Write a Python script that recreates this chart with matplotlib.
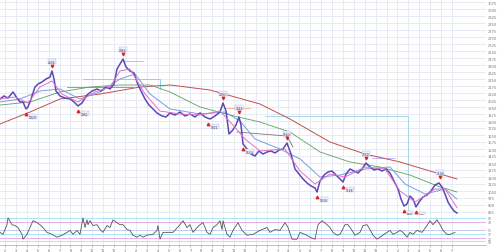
import matplotlib
matplotlib.use("Agg")
import matplotlib.pyplot as plt
import numpy as np

# ---------------- data ----------------
# bar index (one bar per horizontal pixel-step) and close price
bars = [0,4,8,13,17,20,23,26,28,31,35,38,42,46,50,52,54,56,60,65,70,74,78,82,87,92,97,101,106,110,
        114,117,120,123,126,130,134,137,141,145,149,153,157,162,166,170,175,180,185,190,195,200,205,210,
        215,220,223,226,229,232,236,239,241,243,247,251,255,259,263,267,271,275,279,283,287,291,295,299,
        303,307,311,315,317,320,324,328,332,336,340,343,346,350,354,358,362,366,370,374,378,382,386,390,
        394,398,401,404,407,410,413,416,419,423,427,431,435,439,442,445,448,451,454,457]
price = [2036,2068,2046,2111,2046,2004,2004,1929,1950,2036,2164,2196,2218,2250,2271,2336,2250,2121,2068,2046,
         2036,2004,1961,1993,2079,2121,2143,2121,2164,2143,2196,2357,2411,2464,2379,2336,2314,2218,2121,2036,
         1971,1929,1886,1854,1843,1886,1864,1896,1854,1875,1843,1886,1843,1821,1854,1896,1993,1907,1661,1693,
         1757,1843,1757,1554,1500,1446,1425,1479,1446,1468,1479,1457,1489,1500,1564,1446,1286,1232,1179,1136,
         1104,1082,1039,1157,1221,1254,1264,1221,1179,1146,1232,1286,1264,1243,1286,1350,1307,1275,1286,1264,
         1286,1243,1157,1071,964,889,911,996,964,879,932,986,1007,1050,1114,1136,1093,1018,932,879,836,814]

ma_fast_bars = [0,15,28,40,52,62,78,95,110,120,130,145,160,180,200,220,232,245,260,285,300,315,330,345,365,385,400,415,435,445,457]
ma_fast = [2036,2057,1993,2164,2229,2089,2004,2111,2164,2336,2357,2089,1907,1875,1864,1907,1768,1607,1479,1500,1264,1125,1232,1200,1307,1286,1050,932,1071,1071,871]

ma_mid_bars = [0,20,40,60,80,100,120,135,150,170,200,225,240,255,280,300,320,340,365,390,405,425,445,457]
ma_mid = [2004,2036,2121,2143,2036,2111,2250,2304,2089,1929,1875,1896,1800,1607,1500,1393,1200,1221,1286,1307,1125,1018,1071,964]

ma_slow_bars = [0,30,60,90,120,150,170,200,230,260,290,320,350,380,410,440,457]
ma_slow = [1971,2004,2111,2164,2186,2186,2111,1950,1864,1789,1682,1468,1361,1307,1221,1093,1039]

ma_long_bars = [0,30,60,100,140,170,210,260,290,330,365,400,430,457]
ma_long = [1768,1896,2036,2089,2164,2186,2132,1982,1821,1575,1446,1361,1264,1179]

osc_bars = [0,3,7,8,12,15,18,22,23,27,30,33,37,40,43,47,52,57,62,67,70,73,77,80,83,85,87,88,90,93,97,100,
            103,107,110,113,117,120,123,127,130,133,137,140,143,147,153,157,158,160,163,167,173,180,183,187,
            190,193,197,200,203,207,210,213,217,220,222,223,227,230,233,238,242,247,253,260,267,270,275,280,
            285,288,292,297,300,305,310,315,318,322,327,330,333,337,340,345,348,352,355,360,363,367,370,373,
            377,380,387,390,393,397,400,403,407,410,413,417,422,427,430,433,437,440,443,447,450,455]
osc = [41,34,68,92,68,65,58,34,17,34,58,82,75,68,58,41,34,24,31,41,48,34,48,34,92,58,85,68,82,65,68,51,
       41,65,58,85,75,68,68,51,48,31,24,31,24,31,34,48,65,17,41,41,41,68,82,58,68,41,58,68,75,41,34,58,68,82,
       51,82,34,24,48,75,48,31,34,48,58,41,51,48,75,58,17,17,41,34,24,17,68,82,68,58,41,31,34,68,68,48,31,41,
       65,68,51,31,17,24,41,48,34,41,48,41,24,41,34,48,41,65,82,68,85,68,48,34,34,41]

peak_bars = [52,123,223,239,287,366,440]
peak_vals = [2336,2464,1993,1843,1564,1350,1146]
trough_bars = [26,78,208,243,317,343,404,416]
trough_vals = [1929,1961,1821,1554,1039,1146,889,879]

price_ticks = list(range(825, 3076, 75))
month_labels = [2,3,4,5,6,7,8,9,10,11,12,1,2,3,4,5,6,7,8,9,10,11,12,1,2,3,4,5,6,7,8,9,10,11,12,1,2,3,4,5,6,7]

# ---------------- figure ----------------
W, H = 500, 253
fig = plt.figure(figsize=(W / 100, H / 100), dpi=100)
fig.patch.set_facecolor("white")
right = 486 / W
ax = fig.add_axes([0, (H - 215) / H, right, 215 / H])
ax2 = fig.add_axes([0, (H - 246) / H, right, 30 / H], sharex=ax)

grid_c = "#e3e8f2"
for a in (ax, ax2):
    a.set_facecolor("white")
    for s in a.spines.values():
        s.set_visible(False)

ax.set_xlim(0, 486)
ax.set_ylim(825 - 2 * 75 / 7, 3075 + 3 * 75 / 7)
month_pos = [5 + 10.9 * k for k in range(len(month_labels))]
ax.set_xticks(month_pos)
ax.set_yticks(price_ticks)
ax.grid(True, color=grid_c, lw=0.6)
ax.tick_params(axis="x", length=0, labelbottom=False)
ax.yaxis.tick_right()
ax.tick_params(axis="y", length=0, labelsize=2.6, labelcolor="#777777", pad=1.5)
ax.set_yticklabels([str(v) for v in price_ticks])

# boxes / guide lines
ax.plot([83, 160, 160], [2250, 2250, 2143], color="#8fd3e6", lw=0.7)
ax.plot([67, 133], [2164, 2164], color="#66aa55", lw=0.6)
ax.plot([265, 408, 408], [1854, 1854, 800], color="#a9d6ea", lw=0.7)
ax.plot([237, 287, 293], [1682, 1639, 1521], color="#777777", lw=0.6)
ax.plot([123, 143], [2443, 2443], color="#f0a070", lw=0.5)
ax.plot([226, 250], [1940, 1940], color="#f0a070", lw=0.5)
ax.plot([372, 395], [1400, 1400], color="#b0a0ff", lw=0.5)

ax.plot(ma_long_bars, ma_long, color="#c0504d", lw=0.7)
ax.plot(ma_slow_bars, ma_slow, color="#5ea05e", lw=0.6)
ax.plot(ma_mid_bars, ma_mid, color="#7b9be0", lw=0.7)
ax.plot(bars, price, color="#5a48b8", lw=1.1)
ax.plot(ma_fast_bars, ma_fast, color="#e070c8", lw=0.7)

ax.scatter(peak_bars, [v + 50 for v in peak_vals], marker="v", s=3, color="#dd2222", zorder=5)
ax.scatter(trough_bars, [v - 50 for v in trough_vals], marker="^", s=3, color="#dd2222", zorder=5)
for b, v in zip(peak_bars, peak_vals):
    ax.text(b, v + 80, str(v), fontsize=2.2, color="#333366", ha="center", va="bottom",
            bbox=dict(boxstyle="square,pad=0.1", fc="#eeeeff", ec="#9999cc", lw=0.2))
for b, v in zip(trough_bars, trough_vals):
    ax.text(b + 3, v - 60, str(v), fontsize=2.2, color="#333366", ha="left", va="top",
            bbox=dict(boxstyle="square,pad=0.1", fc="#eeeeff", ec="#9999cc", lw=0.2))

# oscillator
ax2.set_ylim(-3.4, 102)
ax2.grid(True, axis="x", color=grid_c, lw=0.6)
for lvl, c in [(92, "#9ee3ef"), (78, "#e7a0e8"), (51, "#b8c8f0"), (37, "#9ee3ef"), (20, "#e7a0e8"), (10, "#9ee3ef")]:
    ax2.axhline(lvl, color=c, lw=0.6)
ax2.plot(osc_bars, osc, color="#555555", lw=0.6)
ax2.yaxis.tick_right()
ax2.set_yticks([10, 20, 37, 51, 78, 92])
ax2.tick_params(axis="y", length=0, labelsize=2.2, labelcolor="#777777", pad=1.5)
ax2.set_xticks(month_pos)
ax2.set_xticklabels([str(m) for m in month_labels])
ax2.tick_params(axis="x", length=1.5, width=0.4, labelsize=2.4, labelcolor="#666666", pad=0.5, color="#888888")
ax2.spines["bottom"].set_visible(True)
ax2.spines["bottom"].set_color("#aaaaaa")
ax2.spines["bottom"].set_linewidth(0.5)
ax.axhline(825 - 2 * 75 / 7, color="#cccccc", lw=0.6)

fig.savefig("out.png", dpi=100)
